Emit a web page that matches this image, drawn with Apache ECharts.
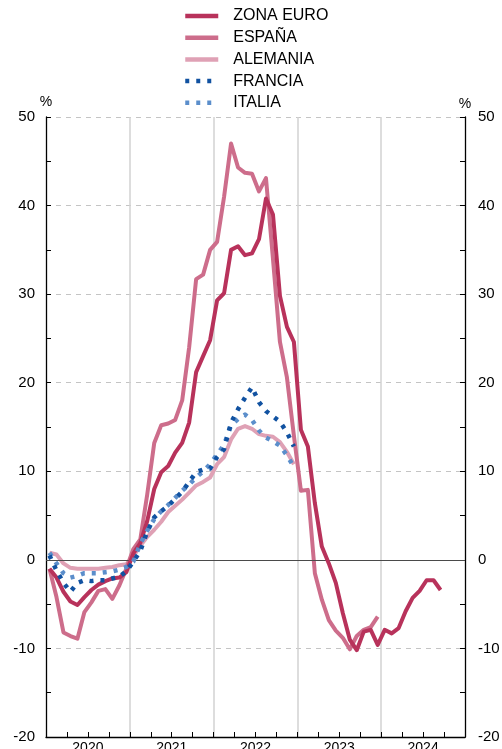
<!DOCTYPE html>
<html><head><meta charset="utf-8">
<script src="https://cdn.jsdelivr.net/npm/echarts@6/dist/echarts.min.js"></script>
<style>html,body{margin:0;padding:0;background:#fff}#c{width:502px;height:749px}</style>
</head><body><div id="c"></div>
<script>
// Categories
const years = ['2020', '2021', '2022', '2023', '2024'];
const monthNums = ['01','02','03','04','05','06','07','08','09','10','11','12'];
const months = [];
years.forEach(y => monthNums.forEach(m => months.push(y + '-' + m)));

// Series values (%), monthly from Jan 2020
const zonaEuro = [
  -1.0, -2.0, -3.6, -4.7, -5.1, -4.2, -3.4, -2.8, -2.4, -2.1, -2.0, -1.4,
  0.7, 1.9, 4.4, 8.0, 9.9, 10.6, 12.1, 13.2, 15.5, 21.2, 23.0, 24.8,
  29.3, 30.1, 35.0, 35.4, 34.4, 34.6, 36.2, 40.8, 39.0, 29.8, 26.3, 24.6,
  14.7, 12.8, 6.4, 1.5, -0.4, -2.6, -6.0, -9.0, -10.2, -8.1, -7.9, -9.6,
  -7.9, -8.3, -7.7, -5.8, -4.3, -3.5, -2.3, -2.3, -3.4
];
const espana = [
  -1.0, -4.2, -8.2, -8.6, -8.9, -5.9, -4.8, -3.5, -3.3, -4.4, -2.9, -1.0,
  1.2, 2.3, 7.4, 13.2, 15.2, 15.4, 15.8, 18.0, 24.0, 31.7, 32.2, 35.0,
  35.9, 41.0, 47.0, 44.3, 43.7, 43.6, 41.6, 43.1, 34.0, 24.6, 20.6, 14.0,
  7.8, 7.9, -1.5, -4.5, -6.8, -8.0, -8.8, -10.1, -8.6, -7.9, -7.6, -6.4
];
const alemania = [
  0.8, 0.6, -0.4, -0.9, -1.0, -1.0, -1.0, -1.0, -0.9, -0.8, -0.6, -0.5,
  0.4, 1.6, 2.6, 3.4, 4.3, 5.4, 6.1, 6.8, 7.6, 8.4, 8.8, 9.3,
  10.8, 11.6, 13.6, 14.8, 15.1, 14.8, 14.2, 14.0, 13.9, 13.3, 12.2, 10.8
];
const francia = [
  0.5, -1.2, -2.6, -3.6, -2.6, -2.3, -2.4, -2.3, -2.3, -2.1, -1.9, -1.3,
  -0.2, 1.0, 3.2, 4.8, 5.5, 6.1, 6.9, 7.7, 8.8, 9.9, 10.2, 10.3,
  11.6, 12.5, 15.5, 17.0, 18.3, 19.5, 17.8, 16.8, 16.2, 15.6, 14.4, 12.8
];
const italia = [
  0.8, -0.4, -1.5, -2.0, -1.8, -1.5, -1.5, -1.5, -1.4, -1.3, -1.1, -0.8,
  -0.2, 1.8, 3.3, 4.6, 5.5, 6.2, 7.0, 7.8, 8.5, 9.3, 10.0, 10.8,
  11.9, 13.0, 15.2, 15.9, 16.4, 15.8, 14.6, 13.8, 13.4, 12.9, 11.8, 10.5
];
const seriesNames = ['ZONA EURO', 'ESPAÑA', 'ALEMANIA', 'FRANCIA', 'ITALIA'];

const FONT = '"Liberation Sans", Arial, Helvetica, sans-serif';
const chart = echarts.init(document.getElementById('c'), null, {renderer: 'canvas'});

function lineSeries(name, data, color, z, dashed) {
  return {
    name: name, type: 'line', data: data, xAxisIndex: 0, yAxisIndex: 0,
    symbol: 'none', showSymbol: false, smooth: false, z: z, silent: true,
    lineStyle: {color: color, width: dashed ? 4.5 : 4, type: dashed ? [4, 7] : 'solid', cap: 'butt', join: 'round'},
    itemStyle: {color: color}
  };
}

const yAxisCommon = {
  type: 'value', min: -20, max: 50, interval: 10,
  name: '%', nameLocation: 'end', nameGap: 6,
  nameTextStyle: {fontSize: 14, color: '#000', fontFamily: FONT, align: 'center'},
  axisLine: {show: true, onZero: false, lineStyle: {color: '#000', width: 1.3}},
  axisTick: {show: true, inside: true, length: 5, lineStyle: {color: '#000', width: 1}},
  minorTick: {show: true, splitNumber: 2, length: 5, lineStyle: {color: '#000', width: 1}}
};

const zeSeries = lineSeries(seriesNames[0], zonaEuro, '#b8325b', 5, false);
zeSeries.markLine = {
  silent: true, symbol: ['none', 'none'], label: {show: false},
  lineStyle: {color: '#4a4a4a', width: 1.2, type: 'solid'},
  data: [{yAxis: 0}]
};

const option = {
  animation: false,
  backgroundColor: '#fff',
  textStyle: {fontFamily: FONT},
  legend: {
    orient: 'vertical', left: 183, top: 8, padding: 0,
    itemWidth: 33, itemHeight: 14, itemGap: 5.7,
    data: seriesNames,
    itemStyle: {opacity: 0},
    lineStyle: {width: 4.5},
    textStyle: {fontSize: 16, color: '#000', fontFamily: FONT, lineHeight: 16, padding: [0, 0, 0, 10]}
  },
  grid: {left: 46, right: 37, top: 117, bottom: 12, containLabel: false, outerBoundsMode: 'none'},
  xAxis: [
    {
      type: 'category', data: months, boundaryGap: true, position: 'bottom',
      axisLine: {show: true, onZero: false, lineStyle: {color: '#000', width: 1.3}},
      axisTick: {show: true, inside: true, interval: 2, length: 5, lineStyle: {color: '#000', width: 1}},
      axisLabel: {show: false},
      splitLine: {show: false}
    },
    {
      type: 'category', data: years, boundaryGap: true, position: 'bottom',
      axisLine: {show: false}, axisTick: {show: false},
      axisLabel: {show: true, fontSize: 14, color: '#000', margin: 4, fontFamily: FONT},
      splitLine: {show: true, showMinLine: false, showMaxLine: false, lineStyle: {color: '#d2d2d2', width: 1.5}}
    }
  ],
  yAxis: [
    Object.assign({}, yAxisCommon, {
      position: 'left',
      axisLabel: {fontSize: 15, color: '#000', margin: 11, fontFamily: FONT},
      splitLine: {show: true, showMinLine: false, showMaxLine: true, lineStyle: {color: '#c4c4c4', width: 1, type: [5, 5]}}
    }),
    Object.assign({}, yAxisCommon, {
      position: 'right',
      axisLabel: {fontSize: 15, color: '#000', margin: 13, fontFamily: FONT, align: 'left'},
      splitLine: {show: false}
    })
  ],
  series: [
    zeSeries,
    lineSeries(seriesNames[1], espana, '#cd6d8b', 4, false),
    lineSeries(seriesNames[2], alemania, '#dfa1b5', 3, false),
    lineSeries(seriesNames[3], francia, '#1152a1', 7, true),
    lineSeries(seriesNames[4], italia, '#5b8ecb', 6, true)
  ]
};
chart.setOption(option);
</script>
</body></html>
